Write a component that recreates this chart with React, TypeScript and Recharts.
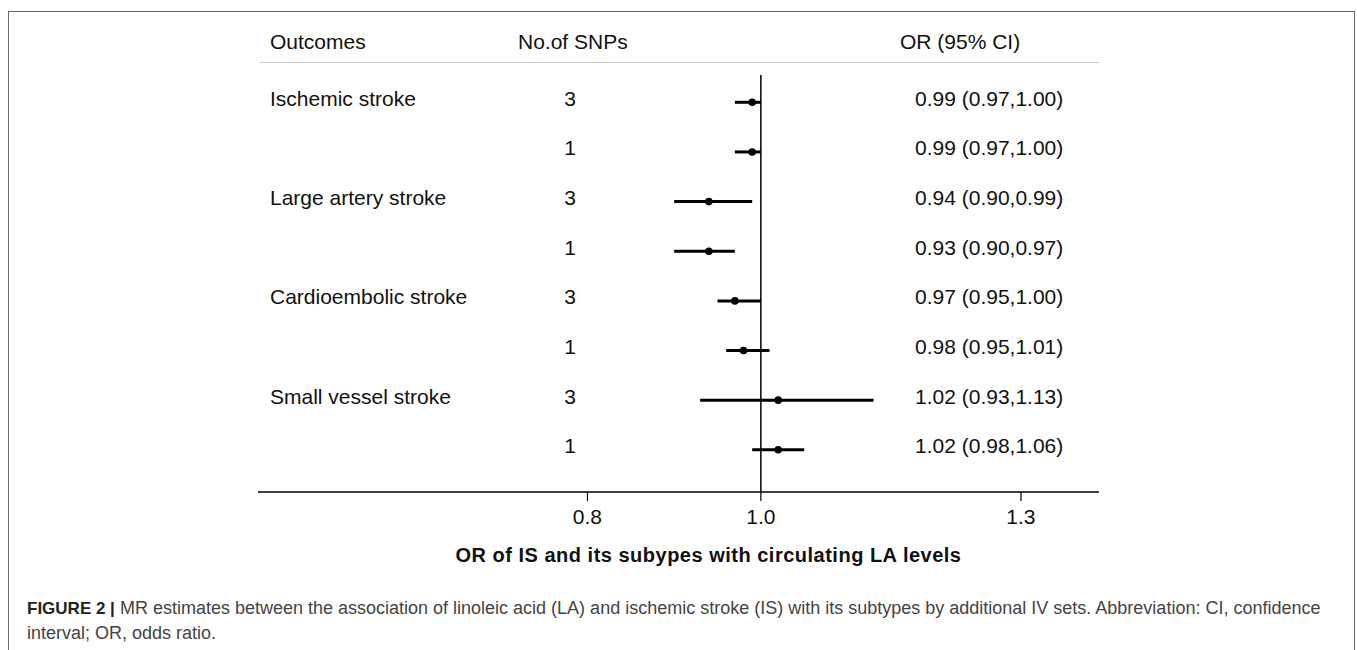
import { ComposedChart, ErrorBar, LabelList, ReferenceLine, Scatter, XAxis, YAxis } from "recharts";

const FONT = "'Liberation Sans', Arial, Helvetica, sans-serif";

// one entry per row of the forest plot, top to bottom
const outcomes = [
  "Ischemic stroke",
  "",
  "Large artery stroke",
  "",
  "Cardioembolic stroke",
  "",
  "Small vessel stroke",
  "",
];
const snpCounts = [3, 1, 3, 1, 3, 1, 3, 1];
const orEstimate = [0.99, 0.99, 0.94, 0.94, 0.97, 0.98, 1.02, 1.02];
const ciLow = [0.97, 0.97, 0.9, 0.9, 0.95, 0.96, 0.93, 0.99];
const ciHigh = [1.0, 1.0, 0.99, 0.97, 1.0, 1.01, 1.13, 1.05];
const orLabels = [
  "0.99 (0.97,1.00)",
  "0.99 (0.97,1.00)",
  "0.94 (0.90,0.99)",
  "0.93 (0.90,0.97)",
  "0.97 (0.95,1.00)",
  "0.98 (0.95,1.01)",
  "1.02 (0.93,1.13)",
  "1.02 (0.98,1.06)",
];
const xTicks = [0.8, 1.0, 1.3];

const rows = orEstimate.map((v, i) => ({
  row: i,
  or: v,
  err: [v - ciLow[i], ciHigh[i] - v],
}));

// text columns for a row, placed at the row's y from the scatter point
// eslint-disable-next-line @typescript-eslint/no-explicit-any
function RowText(props: any) {
  const vb = props.viewBox;
  const cy = vb ? vb.y + (vb.height || 0) / 2 : props.y + (props.height || 0) / 2;
  const i = props.value as number;
  const base = cy + 3.5;
  return (
    <g fontFamily={FONT} fontSize={21} fill="#111">
      {outcomes[i] && (
        <text x={270} y={base}>
          {outcomes[i]}
        </text>
      )}
      <text x={570} y={base} textAnchor="middle">
        {snpCounts[i]}
      </text>
      <text x={915} y={base}>
        {orLabels[i]}
      </text>
    </g>
  );
}

// eslint-disable-next-line @typescript-eslint/no-explicit-any
function Dot(p: any) {
  return <circle cx={p.cx} cy={p.cy} r={3.8} fill="#000" />;
}

export default function App() {
  return (
    <div
      style={{
        position: "absolute",
        left: 0,
        top: 0,
        width: 1357,
        height: 650,
        overflow: "hidden",
        background: "#fff",
        fontFamily: FONT,
      }}
    >
      {/* figure frame, open at the bottom */}
      <div
        style={{
          position: "absolute",
          left: 8,
          top: 11,
          width: 1347,
          height: 639,
          boxSizing: "border-box",
          borderTop: "1.5px solid #6a6a6a",
          borderLeft: "1.5px solid #6a6a6a",
          borderRight: "1.5px solid #6a6a6a",
        }}
      />

      <div style={{ position: "absolute", left: 0, top: 0 }}>
        <ComposedChart
          width={1357}
          height={650}
          data={rows}
          margin={{ top: 75, right: 258, bottom: 78, left: 258 }}
        >
          <XAxis
            type="number"
            dataKey="or"
            domain={[0.42, 1.39]}
            allowDataOverflow
            ticks={xTicks}
            tickFormatter={(v: number) => v.toFixed(1)}
            axisLine={{ stroke: "#000", strokeWidth: 1.3 }}
            tickLine={{ stroke: "#000", strokeWidth: 1.2 }}
            tickSize={9}
            tickMargin={8}
            tick={{ fontSize: 21, fill: "#111", fontFamily: FONT }}
            height={80}
            label={{
              // eslint-disable-next-line @typescript-eslint/no-explicit-any
              content: ({ viewBox }: any) => (
                <text
                  x={viewBox.x + viewBox.width / 2 + 30}
                  y={viewBox.y + 70}
                  textAnchor="middle"
                  fontFamily={FONT}
                  fontSize={20}
                  fontWeight="bold"
                  letterSpacing={0.5}
                  fill="#111"
                >
                  OR of IS and its subypes with circulating LA levels
                </text>
              ),
            }}
          />
          <YAxis type="number" dataKey="row" domain={[-0.55, 7.85]} reversed hide />
          <ReferenceLine x={1} stroke="#000" strokeWidth={1.5} />
          <Scatter data={rows} dataKey="or" shape={<Dot />} isAnimationActive={false}>
            <ErrorBar
              dataKey="err"
              direction="x"
              width={0}
              stroke="#000"
              strokeWidth={3}
              isAnimationActive={false}
            />
            <LabelList dataKey="row" content={<RowText />} />
          </Scatter>
        </ComposedChart>
      </div>

      {/* column headers */}
      <div style={{ position: "absolute", top: 31, left: 270, fontSize: 21, lineHeight: "21px", color: "#111" }}>
        Outcomes
      </div>
      <div style={{ position: "absolute", top: 31, left: 518, fontSize: 21, lineHeight: "21px", color: "#111" }}>
        No.of SNPs
      </div>
      <div style={{ position: "absolute", top: 31, left: 900, fontSize: 21, lineHeight: "21px", color: "#111" }}>
        OR (95% CI)
      </div>
      <div
        style={{
          position: "absolute",
          top: 62,
          left: 260,
          width: 839,
          borderTop: "1px solid #c8c8c8",
        }}
      />

      {/* caption */}
      <div
        style={{
          position: "absolute",
          top: 596,
          left: 27,
          fontSize: 18,
          lineHeight: "24px",
          color: "#444",
          whiteSpace: "nowrap",
        }}
      >
        <div>
          <b style={{ color: "#222", fontSize: 17 }}>FIGURE 2 |</b> MR estimates between the association
          of linoleic acid (LA) and ischemic stroke (IS) with its subtypes by additional IV sets.
          Abbreviation: CI, confidence
        </div>
        <div>interval; OR, odds ratio.</div>
      </div>
    </div>
  );
}
